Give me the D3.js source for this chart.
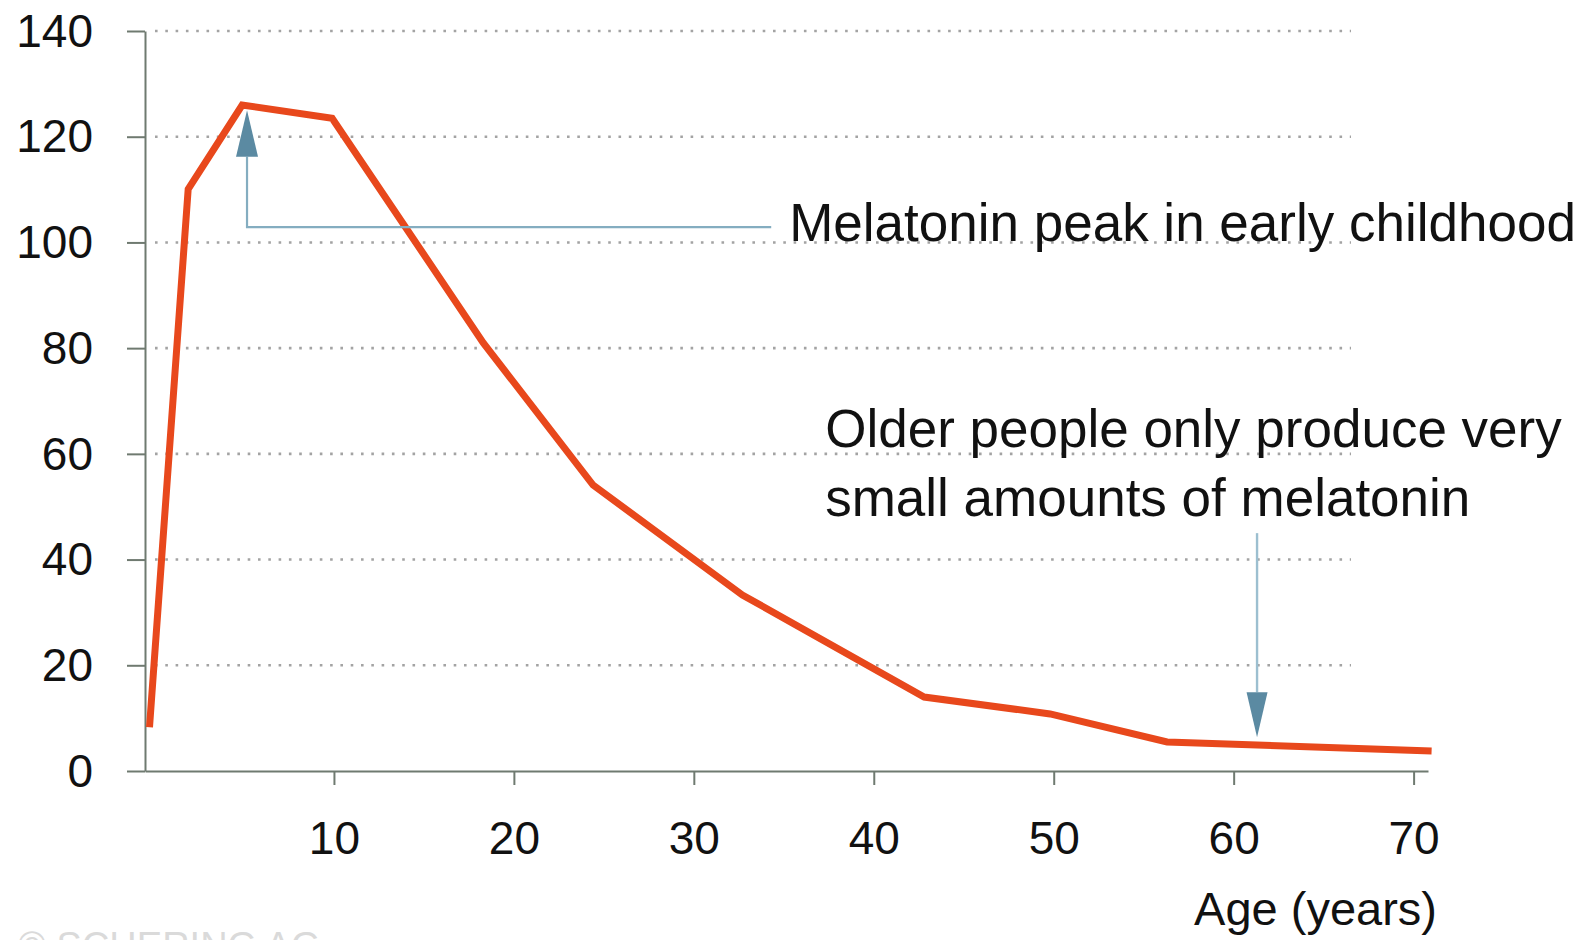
<!DOCTYPE html>
<html><head><meta charset="utf-8">
<script src="https://cdn.jsdelivr.net/npm/d3@7"></script>
<style>html,body{margin:0;padding:0;background:#fff;overflow:hidden}</style>
</head><body>
<svg id="chart" width="1587" height="940"></svg>
<script>
// ---- data ----
const ages   = [-0.25, 1.9, 4.9, 9.9, 18.3, 24.4, 32.7, 42.8, 49.8, 56.3, 71.0];
const levels = [8.3, 110.1, 126.0, 123.5, 81.0, 54.1, 33.3, 14.0, 10.8, 5.5, 3.8];
const yTicks = [0, 20, 40, 60, 80, 100, 120, 140];
const xTicks = [10, 20, 30, 40, 50, 60, 70];
const xTitle = "Age (years)";
const note1Lines = ["Melatonin peak in early childhood"];
const note2Lines = ["Older people only produce very", "small amounts of melatonin"];
const credit = "\u00A9 SCHERING AG";
// annotation anchors (data space: age, level)
const arrow1 = {age: 5.17, tip: 125.0, base: 116.2, elbow: 102.9, endAge: 34.3};
const arrow2 = {age: 61.3, tip: 6.4, base: 14.9, top: 45.0};
const note1Pos = {age: 35.3, level: 100.3};
const note2Pos = {age: 37.3, level: 61.3};

// ---- layout ----
const W = 1587, H = 940;
const FONT = "'Liberation Sans', Arial, Helvetica, sans-serif";
const svg = d3.select("#chart");
const x = d3.scaleLinear().domain([-0.5, 70.8]).range([145, 1428]);
const y = d3.scaleLinear().domain([0, 140]).range([771, 31]);
const axisColor = "#6f7a70";

// grid
svg.append("g").selectAll("line").data(yTicks.filter(d => d > 0)).join("line")
  .attr("x1", 155).attr("x2", 1351)
  .attr("y1", d => y(d)).attr("y2", d => y(d))
  .attr("stroke", "#a3a3a3").attr("stroke-width", 2.6)
  .attr("stroke-dasharray", "2.6 7.7");

// y axis
const gy = svg.append("g").attr("transform", `translate(${x(-0.5)},0)`)
  .call(d3.axisLeft(y).tickValues(yTicks).tickSize(18).tickSizeOuter(0).tickPadding(34));
// x axis
const gx = svg.append("g").attr("transform", `translate(0,${y(0)})`)
  .call(d3.axisBottom(x).tickValues(xTicks).tickSize(14).tickSizeOuter(0).tickPadding(36));
[gx, gy].forEach(g => {
  g.select(".domain").attr("stroke", axisColor).attr("stroke-width", 2);
  g.selectAll(".tick line").attr("stroke", axisColor).attr("stroke-width", 2);
  g.selectAll(".tick text").attr("font-family", FONT).attr("font-size", 46).attr("fill", "#111");
});
gy.selectAll(".tick text").attr("dy", "0.33em");

// axis title
svg.append("text").attr("x", 1437).attr("y", 925)
  .attr("text-anchor", "end").attr("font-family", FONT).attr("font-size", 47).attr("fill", "#111")
  .text(xTitle);

// data line
const pts = ages.map((a, i) => ({age: a, v: levels[i]}));
svg.append("path").datum(pts)
  .attr("d", d3.line().x(d => x(d.age)).y(d => y(d.v)))
  .attr("fill", "none").attr("stroke", "#e8481c").attr("stroke-width", 7)
  .attr("stroke-linejoin", "miter");

// arrow 1
const a1x = x(arrow1.age);
svg.append("path")
  .attr("d", `M${x(arrow1.endAge)},${y(arrow1.elbow)}H${a1x}V${y(arrow1.base)}`)
  .attr("fill", "none").attr("stroke", "#84adc0").attr("stroke-width", 2.2);
svg.append("path")
  .attr("d", `M${a1x},${y(arrow1.tip)}L${a1x + 11},${y(arrow1.base)}L${a1x - 11},${y(arrow1.base)}Z`)
  .attr("fill", "#5b8aa2");

// arrow 2
const a2x = x(arrow2.age);
svg.append("path")
  .attr("d", `M${a2x},${y(arrow2.top)}V${y(arrow2.base)}`)
  .attr("fill", "none").attr("stroke", "#9cbfd0").attr("stroke-width", 2.4);
svg.append("path")
  .attr("d", `M${a2x},${y(arrow2.tip)}L${a2x + 10.5},${y(arrow2.base)}L${a2x - 10.5},${y(arrow2.base)}Z`)
  .attr("fill", "#5b8aa2");

// notes
function note(pos, lines) {
  const t = svg.append("text").attr("font-family", FONT).attr("font-size", 53).attr("fill", "#111")
    .attr("x", x(pos.age)).attr("y", y(pos.level));
  t.selectAll("tspan").data(lines).join("tspan")
    .attr("x", x(pos.age)).attr("dy", (d, i) => i === 0 ? 0 : "1.3em").text(d => d);
}
note(note1Pos, note1Lines);
note(note2Pos, note2Lines);

// credit (cut off at the bottom edge, as in the reference)
svg.append("text").attr("x", 18).attr("y", 959)
  .attr("font-family", FONT).attr("font-size", 38).attr("fill", "#dadada")
  .text(credit);
</script>
</body></html>
